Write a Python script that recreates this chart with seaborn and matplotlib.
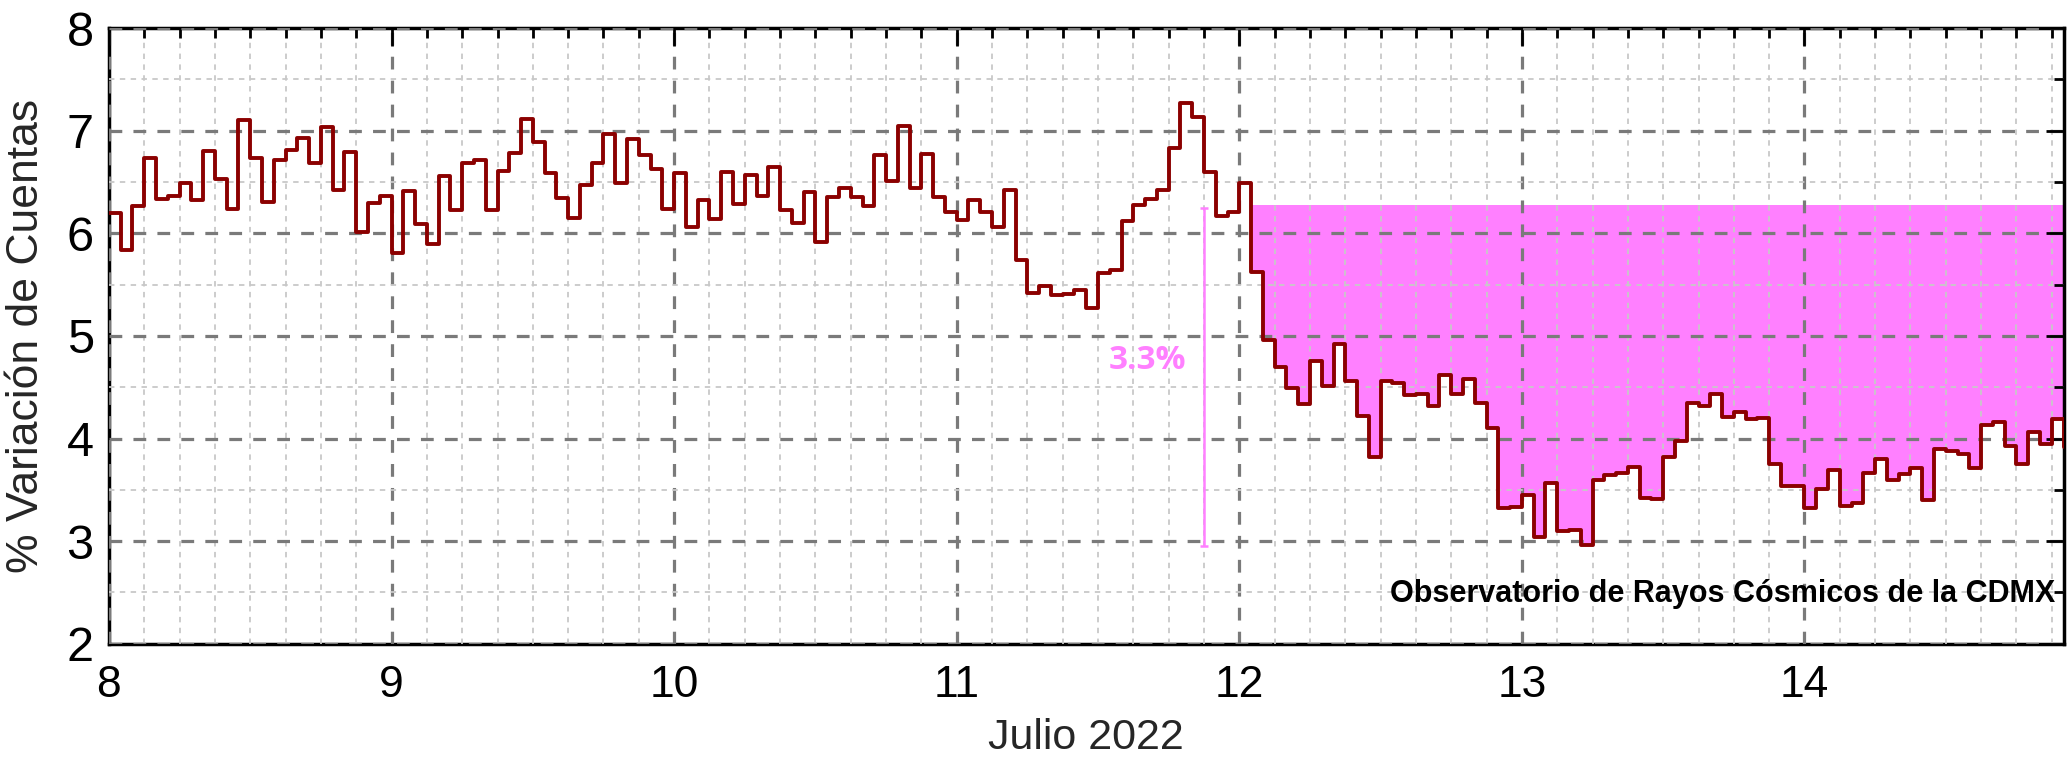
import numpy as np
import pandas as pd
import matplotlib
matplotlib.use('Agg')
import matplotlib.pyplot as plt
import seaborn as sns
from matplotlib.ticker import MultipleLocator

# estilo base
sns.set_style("white")
plt.rcParams['font.family'] = ['Liberation Sans', 'DejaVu Sans']

# % variación horaria, un bloque por día (8 a 14 de julio 2022)
dia_8 = [6.20, 5.84, 6.27, 6.73, 6.33, 6.36, 6.49, 6.32, 6.80, 6.53, 6.24, 7.10,
         6.73, 6.31, 6.71, 6.81, 6.93, 6.69, 7.04, 6.42, 6.79, 6.01, 6.30, 6.36]
dia_9 = [5.81, 6.41, 6.09, 5.90, 6.56, 6.23, 6.69, 6.71, 6.23, 6.61, 6.78, 7.11,
         6.89, 6.59, 6.34, 6.15, 6.47, 6.69, 6.97, 6.49, 6.92, 6.76, 6.63, 6.24]
dia_10 = [6.59, 6.06, 6.32, 6.14, 6.60, 6.29, 6.57, 6.36, 6.65, 6.23, 6.10, 6.40,
          5.92, 6.35, 6.44, 6.35, 6.27, 6.76, 6.51, 7.05, 6.44, 6.77, 6.35, 6.21]
dia_11 = [6.13, 6.32, 6.21, 6.06, 6.42, 5.74, 5.42, 5.49, 5.40, 5.41, 5.45, 5.27,
          5.61, 5.64, 6.12, 6.28, 6.33, 6.42, 6.83, 7.27, 7.13, 6.60, 6.17, 6.21]
dia_12 = [6.49, 5.62, 4.96, 4.70, 4.49, 4.34, 4.76, 4.51, 4.92, 4.56, 4.22, 3.82,
          4.56, 4.54, 4.42, 4.43, 4.32, 4.62, 4.43, 4.58, 4.35, 4.10, 3.32, 3.33]
dia_13 = [3.45, 3.04, 3.57, 3.10, 3.11, 2.96, 3.60, 3.64, 3.66, 3.72, 3.42, 3.41,
          3.82, 3.98, 4.35, 4.32, 4.43, 4.21, 4.26, 4.19, 4.20, 3.75, 3.54, 3.54]
dia_14 = [3.32, 3.51, 3.69, 3.34, 3.37, 3.66, 3.80, 3.60, 3.65, 3.71, 3.40, 3.90,
          3.88, 3.85, 3.71, 4.13, 4.16, 3.93, 3.75, 4.06, 3.95, 4.19, 3.92]

dia_inicio = 8
valores = dia_8 + dia_9 + dia_10 + dia_11 + dia_12 + dia_13 + dia_14
dias = dia_inicio + np.arange(len(valores)) / 24.0

# decrecimiento Forbush
nivel_base = 6.28
inicio_caida = 12 + 1 / 24.0
barra_x = 11.875
barra_sup = 6.25
barra_inf = 2.95
texto_caida = '3.3%'

df = pd.DataFrame({'dia': dias, 'variacion': valores})

fig = plt.figure(figsize=(20.71, 7.62), dpi=100)
ax = fig.add_axes([0.0526, 0.1552, 0.9438, 0.8079])

rosa = '#ff80ff'
ax.fill_between(df['dia'], df['variacion'], nivel_base,
                where=df['dia'] >= inicio_caida - 1e-9, step='post',
                color=rosa, lw=0, zorder=1)

sns.lineplot(data=df, x='dia', y='variacion', ax=ax, estimator=None,
             drawstyle='steps-post', color='#8b0000', lw=2.8, zorder=4)

ax.errorbar([barra_x], [(barra_sup + barra_inf) / 2],
            yerr=[[(barra_sup - barra_inf) / 2], [(barra_sup - barra_inf) / 2]],
            color=rosa, elinewidth=1.8, capsize=3, capthick=1.8, zorder=5)
ax.text(11.675, 4.76, texto_caida, color=rosa, fontsize=24, fontweight='bold',
        family=['Open Sans', 'DejaVu Sans'], ha='center', va='center', zorder=5)

ax.text(0.9957, 0.081, 'Observatorio de Rayos Cósmicos de la CDMX',
        transform=ax.transAxes, ha='right', va='center', fontsize=22,
        fontweight='bold', color='black', zorder=5)

ax.set_xlim(dia_inicio, dias[-1])
ax.set_ylim(2, 8)
ax.xaxis.set_major_locator(MultipleLocator(1))
ax.xaxis.set_minor_locator(MultipleLocator(1 / 8))
ax.yaxis.set_major_locator(MultipleLocator(1))
ax.yaxis.set_minor_locator(MultipleLocator(0.5))

ax.set_axisbelow(False)
ax.grid(which='major', color='#7a7a7a', lw=2.3, ls=(0, (4, 3.5)))
ax.grid(which='minor', color='#c8c8c8', lw=1.3, ls=(0, (3, 3)))

ax.tick_params(which='both', direction='in', top=True, right=True, width=2,
               colors='black')
ax.tick_params(axis='y', labelsize=35, pad=11)
ax.tick_params(axis='x', labelsize=32, pad=15)
ax.tick_params(which='major', length=13)
ax.tick_params(which='minor', length=7)
for s in ax.spines.values():
    s.set_linewidth(2.5)
    s.set_color('black')

ax.set_xlabel('Julio 2022', fontsize=31, labelpad=9)
ax.set_ylabel('% Variación de Cuentas', fontsize=32, labelpad=14)

fig.savefig('out.png', dpi=100)
